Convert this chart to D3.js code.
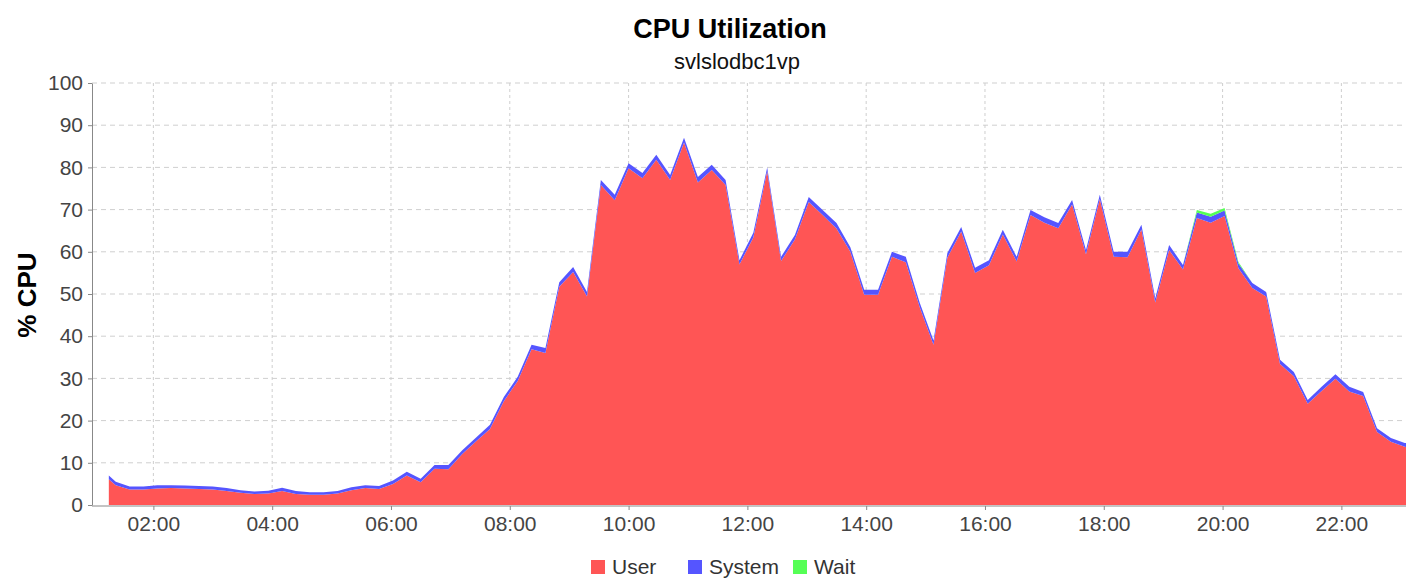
<!DOCTYPE html>
<html lang="en">
<head>
<meta charset="UTF-8">
<title>CPU Utilization</title>
<script src="https://d3js.org/d3.v7.min.js"></script>
<style>
  body { margin: 0; background: #fff; }
  svg { display: block; font-family: "Liberation Sans", Arial, sans-serif; }
  .grid line { stroke: #cfcfcf; stroke-width: 1; }
  .tick text { fill: #444; }
</style>
</head>
<body>
<svg width="1406" height="580"></svg>
<script>
// sample times, minutes after midnight
const times = [75].concat(d3.range(95).map(i => 82 + 14 * i));

// % CPU per sample
const user = [6.1, 4.7, 3.7, 3.7, 3.9, 4.0, 3.9, 3.8, 3.7, 3.3, 2.9, 2.6, 2.7, 3.3, 2.6, 2.4,
  2.4, 2.7, 3.5, 4.0, 3.8, 5.0, 7.0, 5.4, 8.6, 8.5, 12.1, 15.1, 18.0, 24.6, 29.4, 36.9,
  36.0, 51.7, 55.2, 49.4, 75.8, 72.2, 79.8, 77.4, 81.8, 77.0, 85.9, 76.4, 79.4, 75.8, 57.0, 63.4,
  79.1, 57.8, 62.9, 71.8, 68.7, 65.5, 60.0, 49.8, 49.8, 58.8, 57.5, 46.9, 38.0, 58.6, 64.8, 55.0,
  56.8, 64.1, 57.7, 68.7, 66.9, 65.6, 71.2, 59.4, 72.5, 58.8, 58.7, 65.3, 48.0, 60.4, 55.8, 68.0,
  66.9, 68.5, 56.1, 51.4, 49.4, 33.4, 30.5, 24.0, 27.0, 29.9, 26.9, 25.8, 17.3, 15.0, 13.8, 13.4];
const system = [0.9, 0.8, 0.7, 0.7, 0.8, 0.7, 0.7, 0.7, 0.7, 0.7, 0.6, 0.6, 0.7, 0.8, 0.7, 0.6,
  0.6, 0.6, 0.7, 0.7, 0.7, 0.8, 0.9, 0.8, 0.9, 1.0, 0.9, 0.9, 1.0, 1.0, 1.0, 1.1,
  1.2, 1.1, 1.2, 1.1, 1.2, 1.3, 1.2, 1.3, 1.2, 1.2, 1.1, 1.3, 1.2, 1.2, 1.0, 1.1,
  0.9, 1.0, 1.1, 1.2, 1.2, 1.3, 1.1, 1.2, 1.2, 1.2, 1.3, 1.1, 1.0, 1.1, 1.1, 1.2,
  1.2, 1.1, 1.1, 1.2, 1.3, 1.2, 1.1, 1.0, 1.0, 1.2, 1.3, 1.1, 1.0, 1.2, 1.1, 1.3,
  1.4, 1.3, 1.1, 1.2, 1.1, 1.0, 1.0, 0.9, 1.0, 1.1, 1.1, 1.0, 0.9, 0.9, 0.9, 0.9];
const wait = [0, 0, 0, 0, 0, 0, 0, 0, 0, 0, 0, 0, 0, 0, 0, 0,
  0, 0, 0, 0, 0, 0, 0, 0, 0, 0, 0, 0, 0, 0, 0, 0,
  0, 0, 0, 0, 0, 0, 0, 0, 0, 0, 0, 0, 0, 0, 0, 0,
  0, 0, 0, 0, 0, 0, 0, 0, 0, 0, 0, 0, 0, 0, 0, 0,
  0, 0, 0, 0, 0, 0, 0, 0, 0, 0, 0, 0, 0, 0, 0, 0.6,
  0.7, 0.6, 0.4, 0, 0, 0, 0, 0, 0, 0, 0, 0, 0, 0, 0, 0];

const seriesNames = ["User", "System", "Wait"];
const seriesColors = ["#ff5555", "#5555ff", "#55ff55"];
const xTicks = [120, 240, 360, 480, 600, 720, 840, 960, 1080, 1200, 1320];
const yTicks = [0, 10, 20, 30, 40, 50, 60, 70, 80, 90, 100];

const svg = d3.select("svg");
const plot = { left: 92, top: 83, bottom: 505, right: 1406 };

const x = d3.scaleLinear().domain([58, 1400]).range([plot.left, plot.left + 1342 * 0.99]);
const y = d3.scaleLinear().domain([0, 100]).range([plot.bottom, plot.top]);

const rows = times.map((t, i) => ({ t: t, User: user[i], System: system[i], Wait: wait[i] }));
const stacked = d3.stack().keys(seriesNames)(rows);

// gridlines
const grid = svg.append("g").attr("class", "grid");
grid.selectAll(".h").data(yTicks.slice(1)).join("line")
  .attr("x1", plot.left).attr("x2", plot.right)
  .attr("y1", d => y(d)).attr("y2", d => y(d))
  .attr("stroke-dasharray", "5,4");
grid.selectAll(".v").data(xTicks).join("line")
  .attr("x1", d => x(d)).attr("x2", d => x(d))
  .attr("y1", plot.top).attr("y2", plot.bottom)
  .attr("stroke-dasharray", "3,3");

// stacked areas
const area = d3.area()
  .x(d => x(d.data.t))
  .y0(d => y(d[0]))
  .y1(d => y(d[1]));

svg.append("g").selectAll("path").data(stacked).join("path")
  .attr("d", area)
  .attr("fill", (d, i) => seriesColors[i]);

// axes
const fmt = m => d3.format("02")(Math.floor(m / 60)) + ":" + d3.format("02")(m % 60);
const xAxis = svg.append("g")
  .attr("transform", `translate(0,${plot.bottom + 1})`)
  .call(d3.axisBottom(x).tickValues(xTicks).tickFormat(fmt).tickSizeInner(4).tickSizeOuter(0).tickPadding(6));
xAxis.select(".domain").attr("stroke", "#888").attr("d", `M${plot.left},0H${plot.right}`);
xAxis.selectAll(".tick line").attr("stroke", "#888");
xAxis.selectAll(".tick text").attr("font-size", 21).attr("font-family", "Liberation Sans, Arial, sans-serif");

const yAxis = svg.append("g")
  .attr("transform", `translate(${plot.left},0)`)
  .call(d3.axisLeft(y).tickValues(yTicks).tickSizeInner(4).tickSizeOuter(0).tickPadding(5));
yAxis.select(".domain").attr("stroke", "#888");
yAxis.selectAll(".tick line").attr("stroke", "#888");
yAxis.selectAll(".tick text").attr("font-size", 21).attr("font-family", "Liberation Sans, Arial, sans-serif");

// titles
svg.append("text")
  .attr("x", 730).attr("y", 38)
  .attr("text-anchor", "middle")
  .attr("font-size", 27).attr("font-weight", "bold").attr("fill", "#000")
  .text("CPU Utilization");
svg.append("text")
  .attr("x", 737).attr("y", 69)
  .attr("text-anchor", "middle")
  .attr("font-size", 22).attr("fill", "#111")
  .text("svlslodbc1vp");
svg.append("text")
  .attr("transform", "translate(36,295) rotate(-90)")
  .attr("text-anchor", "middle")
  .attr("font-size", 26).attr("font-weight", "bold").attr("fill", "#000")
  .text("% CPU");

// legend
const legendX = [591, 688, 793];
const legend = svg.append("g").selectAll("g").data(seriesNames).join("g")
  .attr("transform", (d, i) => `translate(${legendX[i]},560)`);
legend.append("rect").attr("width", 14).attr("height", 14)
  .attr("fill", (d, i) => seriesColors[i]);
legend.append("text").attr("x", 21).attr("y", 14)
  .attr("font-size", 21).attr("fill", "#333")
  .text(d => d);
</script>
</body>
</html>
